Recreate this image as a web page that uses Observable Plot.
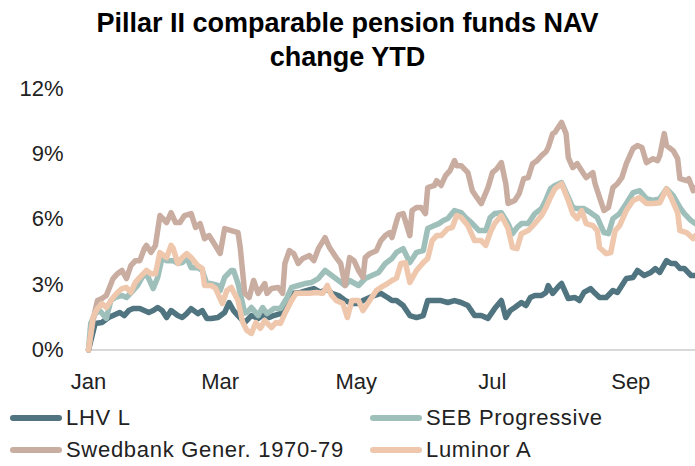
<!DOCTYPE html>
<html>
<head>
<meta charset="utf-8">
<script src="https://cdn.jsdelivr.net/npm/d3@7"></script>
<script src="https://cdn.jsdelivr.net/npm/@observablehq/plot@0.6"></script>
<style>
  html, body { margin: 0; padding: 0; background: #fff; }
  body { width: 695px; height: 466px; position: relative; overflow: hidden; font-family: "Liberation Sans", Arial, sans-serif; }
  #title { position: absolute; left: 0; top: 6px; width: 695px; text-align: center; font-weight: bold; font-size: 27px; line-height: 34px; color: #000; }
  #chart { position: absolute; left: 0; top: 75px; }
  .leg { position: absolute; display: flex; align-items: center; font-size: 22px; letter-spacing: 0.7px; color: #222; height: 26px; white-space: nowrap; }
  .sw { width: 52px; height: 6px; border-radius: 3px; margin-right: 4px; }
</style>
</head>
<body>
<div id="title">Pillar II comparable pension funds NAV<br>change YTD</div>
<div id="chart"></div>
<div id="legend"></div>
<script>
// Series names and colours
const seriesNames = ["LHV L", "SEB Progressive", "Swedbank Gener. 1970-79", "Luminor A"];
const seriesColors = ["#507580", "#9fc0ba", "#c9ada1", "#eec7ad"];

// Days since 1 Jan 2019 and NAV change YTD (%) for each fund
const lhvDays = [0,3,6,9,11,14,16,18,20,23,25,27,29,31,33,35,37,40,42,44,46,49,51,53,55,58,61,63,65,67,70,73,76,79,81,83,86,89,92,95,98,101,104,107,109,112,115,118,121,123,126,128,131,134,136,138,141,144,147,150,152,155,158,161,164,167,170,173,176,179,182,185,187,189,191,194,196,198,200,203,205,206,208,211,212,215,218,220,222,225,227,229,232,235,237,239,241,244,246,249,252,254,256,259,261,263,265,267,270,272];
const lhvValues = [0,1.22,1.26,1.49,1.58,1.72,1.58,1.81,1.9,1.9,1.81,1.72,1.81,1.95,1.81,1.49,1.81,1.58,1.49,1.67,1.9,1.67,1.81,1.45,1.45,1.49,1.72,2.18,1.81,1.58,1.26,1.58,1.45,1.67,1.49,1.58,1.67,2.13,2.6,2.64,2.73,2.82,2.64,2.82,2.6,2.5,2.27,2.13,2.13,2.27,2.41,2.5,2.6,2.41,2.27,2.27,2.04,1.58,1.49,1.58,2.27,2.27,2.27,2.18,2.27,2.18,2.04,1.58,1.58,1.45,1.9,2.27,1.49,1.81,1.95,2.18,2.04,2.41,2.5,2.5,2.64,2.96,2.6,2.96,3.05,2.36,2.41,2.27,2.64,2.82,2.6,2.41,2.41,2.73,2.64,2.96,3.28,3.33,3.65,3.42,3.56,3.74,3.56,4.1,3.97,3.97,3.74,3.74,3.42,3.42];

const sebDays = [0,1,3,5,8,10,12,15,17,20,22,24,26,29,31,33,35,38,40,42,44,46,49,51,53,55,58,59,61,64,65,67,70,71,73,76,78,80,83,86,89,91,94,97,100,103,106,109,112,115,117,121,124,127,130,133,136,138,141,144,147,150,152,155,157,159,161,164,167,169,172,175,178,180,182,185,188,190,192,194,197,200,203,205,207,209,212,215,217,219,222,225,228,231,233,235,238,241,244,247,250,253,256,259,262,265,267,270,272];
const sebValues = [0,1.22,1.67,1.81,1.45,2.27,2.41,2.5,2.41,2.73,2.96,3.33,3.5,2.82,3.33,4.24,4.1,4.1,3.97,4.01,4.24,3.78,3.78,3.65,3.05,3.05,2.96,2.73,3.33,3.65,3.65,3.05,1.7,1.72,1.95,1.58,1.95,1.67,1.9,1.9,2.41,2.87,2.96,3.05,3.1,3.28,3.65,3.42,3.19,2.96,3.19,2.96,3.28,3.42,3.56,3.97,4.2,4.48,4.65,4.01,4.48,4.56,5.57,5.71,5.8,5.94,6.03,6.4,6.3,6.08,5.8,5.48,5.48,6.08,6.26,6.3,5.8,5.34,5.62,5.8,5.8,6.26,6.49,6.9,7.4,7.55,7.68,7.0,6.54,6.49,6.49,6.3,6.08,5.39,5.34,6.03,6.26,6.72,7.22,7.31,6.95,6.86,6.95,7.4,7.08,6.54,6.26,5.94,5.8];

const swedDays = [0,2,4,6,8,11,13,15,17,19,21,23,25,26,28,30,32,35,37,39,41,43,46,48,50,52,54,56,59,61,64,67,68,70,72,74,76,79,80,82,85,87,88,90,92,94,96,99,101,103,106,108,111,113,115,117,119,121,123,124,126,129,131,133,135,136,138,139,141,144,145,147,149,151,152,155,156,158,160,162,164,165,167,170,172,174,176,179,181,183,185,187,188,191,193,195,197,199,201,203,205,206,208,209,211,212,214,215,217,219,221,223,226,227,229,231,233,235,237,239,241,244,246,248,250,253,255,256,258,259,262,264,265,268,269,271,272];
const swedValues = [0,1.35,2.27,2.36,2.5,3.28,3.5,3.65,3.28,3.87,4.1,4.1,4.65,4.8,4.48,4.8,6.17,5.85,6.3,5.85,5.85,6.17,6.26,5.62,5.8,5.11,5.25,4.93,4.43,5.57,5.48,5.39,4.7,2.6,2.41,3.19,2.6,3.05,2.6,2.82,2.87,2.6,3.97,4.56,4.42,3.97,4.2,4.33,4.1,4.65,5.16,4.7,4.24,3.97,2.96,4.24,4.1,3.65,3.33,4.24,4.42,4.56,5.02,5.25,5.39,5.16,5.9,6.2,6.26,5.25,6.4,6.54,6.54,6.26,7.45,7.55,7.77,7.55,8.0,8.23,8.69,8.46,8.46,8.14,7.31,7.0,6.72,7.45,8.14,8.32,8.6,7.63,6.72,6.86,7.18,7.86,7.91,8.55,8.69,8.92,9.1,9.29,9.93,9.98,10.3,10.44,9.93,8.83,8.37,8.55,8.23,7.91,8.14,7.63,7.0,6.4,6.54,7.45,7.63,7.91,8.55,9.24,9.38,9.29,8.6,8.78,8.69,8.92,9.93,9.38,9.15,8.78,7.86,7.77,7.86,7.31,7.45];

const lumDays = [0,2,4,6,8,11,13,15,17,19,21,23,26,28,30,32,35,37,38,40,42,44,46,49,51,52,55,57,60,62,64,67,69,71,73,75,77,79,82,84,86,88,91,93,96,99,102,105,107,109,111,114,116,118,121,123,126,129,131,134,136,138,140,142,144,147,150,152,154,156,158,161,163,165,167,170,173,176,178,180,182,185,188,190,192,194,197,200,203,205,207,209,212,215,217,219,221,223,226,228,229,232,234,236,238,241,244,247,250,253,256,259,261,264,265,268,271,272];
const lumValues = [0,1.49,1.9,2.13,1.95,2.41,2.64,2.82,2.87,2.64,3.1,3.33,3.65,3.5,3.5,4.47,4.24,4.8,4.65,3.97,4.24,4.42,4.24,3.87,3.74,2.96,2.96,2.82,2.13,2.73,2.87,2.27,1.3,0.9,0.76,1.26,0.99,1.35,1.03,1.26,1.22,1.67,2.27,2.6,2.6,2.6,2.64,2.6,2.96,2.5,2.27,2.13,1.49,2.27,2.27,1.81,2.27,2.73,2.87,3.05,3.19,3.3,3.97,4.01,3.1,3.65,4.01,4.2,5.02,5.25,5.25,5.57,5.62,6.17,6.08,5.71,5.02,5.02,4.8,5.39,5.8,6.17,5.57,4.7,4.65,5.34,5.48,5.8,6.17,6.54,7.0,7.4,7.63,6.86,6.26,6.03,6.4,5.8,5.71,5.48,4.7,4.42,4.47,5.48,5.71,6.4,6.86,7.0,6.72,6.72,6.76,7.4,7.0,6.3,5.48,5.39,5.11,5.25];

// Axis tick labels
const xTickDates = ["2019-01-01", "2019-03-01", "2019-05-01", "2019-07-01", "2019-09-01"];
const yTickValues = [0, 3, 6, 9, 12];

const start = new Date(2019, 0, 1);
const toDate = d => d3.timeDay.offset(start, d);
const build = (name, days, values) => days.map((d, i) => ({series: name, date: toDate(d), value: values[i]}));
const data = [
  ...build(seriesNames[0], lhvDays, lhvValues),
  ...build(seriesNames[1], sebDays, sebValues),
  ...build(seriesNames[2], swedDays, swedValues),
  ...build(seriesNames[3], lumDays, lumValues)
];

const chart = Plot.plot({
  width: 695,
  height: 326,
  marginLeft: 88,
  marginRight: 0,
  marginTop: 13,
  marginBottom: 51.5,
  style: {fontFamily: "Liberation Sans, Arial, sans-serif", fontSize: "22px", color: "#222", background: "#fff"},
  x: {type: "utc", domain: [toDate(0), toDate(272)], label: null},
  y: {domain: [0, 12], label: null},
  color: {domain: seriesNames, range: seriesColors},
  marks: [
    Plot.ruleY([0], {stroke: "#d9d9d9", strokeWidth: 2}),
    Plot.line(data, {x: "date", y: "value", z: "series", stroke: "series", strokeWidth: 5.5, strokeLinejoin: "round", strokeLinecap: "round"}),
    Plot.axisX(xTickDates.map(s => new Date(s + "T00:00:00")), {tickSize: 0, tickPadding: 23, tickFormat: d3.timeFormat("%b"), label: null, fontSize: 22}),
    Plot.axisY(yTickValues, {tickSize: 0, tickPadding: 25, tickFormat: d => d + "%", label: null, fontSize: 22})
  ]
});
document.getElementById("chart").appendChild(chart);

// Legend (two columns, two rows)
const legendPos = [[10, 405], [370, 405], [10, 437], [370, 437]];
const legend = document.getElementById("legend");
seriesNames.forEach((name, i) => {
  const item = document.createElement("div");
  item.className = "leg";
  item.style.left = legendPos[i][0] + "px";
  item.style.top = legendPos[i][1] + "px";
  const sw = document.createElement("div");
  sw.className = "sw";
  sw.style.background = seriesColors[i];
  item.appendChild(sw);
  item.appendChild(document.createTextNode(name));
  legend.appendChild(item);
});
</script>
</body>
</html>
